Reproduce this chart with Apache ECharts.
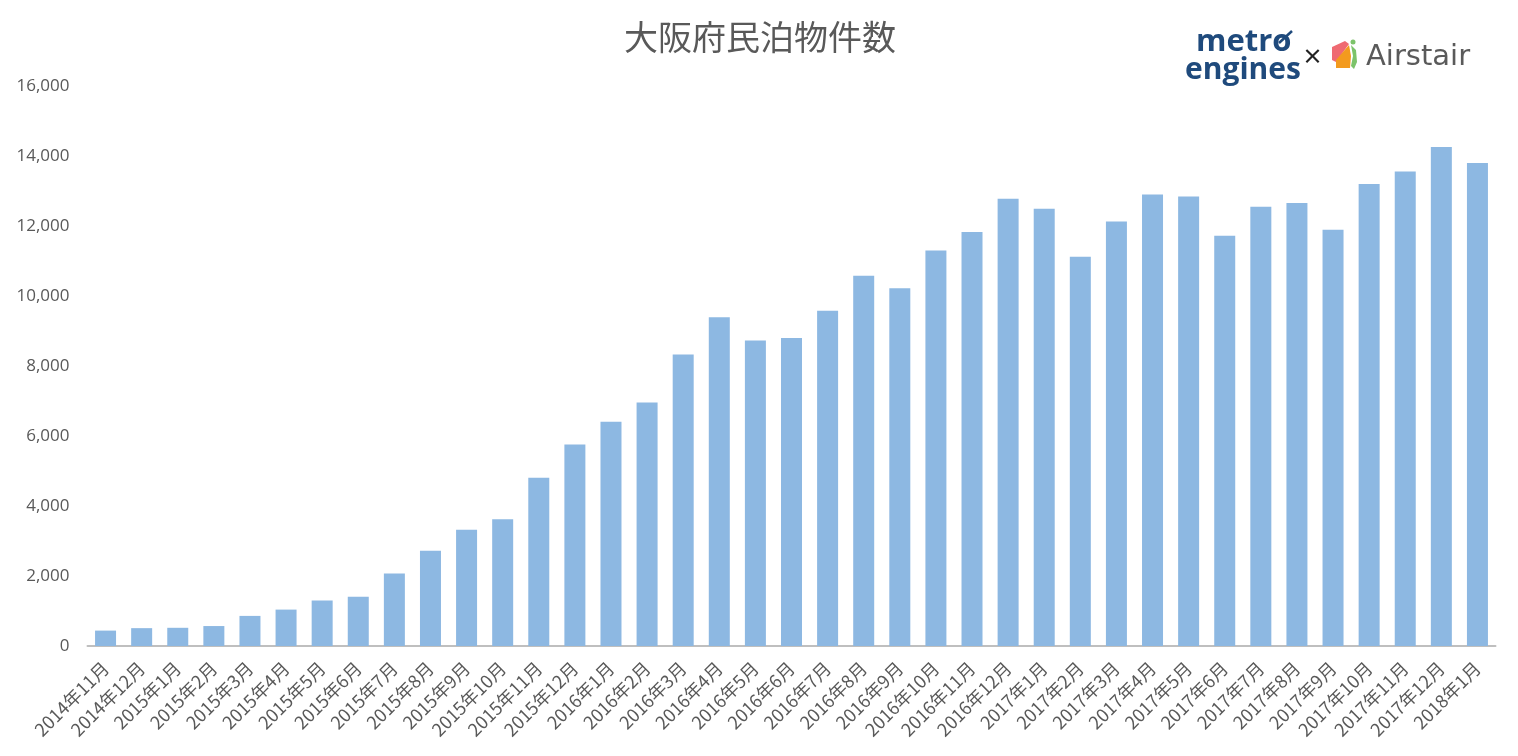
<!DOCTYPE html>
<html><head><meta charset="utf-8">
<style>html,body{margin:0;padding:0;background:#fff}#c{width:1518px;height:756px}</style>
<script src="https://cdn.jsdelivr.net/npm/echarts@6/dist/echarts.min.js"></script></head>
<body><div id="c"></div>
<script>
const categories=["2014年11月","2014年12月","2015年1月","2015年2月","2015年3月","2015年4月","2015年5月","2015年6月","2015年7月","2015年8月","2015年9月","2015年10月","2015年11月","2015年12月","2016年1月","2016年2月","2016年3月","2016年4月","2016年5月","2016年6月","2016年7月","2016年8月","2016年9月","2016年10月","2016年11月","2016年12月","2017年1月","2017年2月","2017年3月","2017年4月","2017年5月","2017年6月","2017年7月","2017年8月","2017年9月","2017年10月","2017年11月","2017年12月","2018年1月"];
const values=[440,510,520,570,860,1040,1300,1410,2070,2720,3320,3620,4810,5760,6410,6960,8330,9390,8730,8800,9580,10580,10220,11300,11830,12780,12490,11120,12130,12900,12840,11720,12550,12660,11890,13200,13560,14260,13800];
const font='"Noto Sans CJK JP","Noto Sans",sans-serif';
const chart=echarts.init(document.getElementById('c'),null,{renderer:'canvas'});
chart.setOption({
 animation:false,
 title:{text:'大阪府民泊物件数',left:755,top:15,textAlign:'center',textStyle:{fontFamily:font,fontSize:34,fontWeight:'normal',color:'#595959'}},
 grid:{left:87.5,right:22.5,top:86,bottom:110,containLabel:false},
 xAxis:{type:'category',data:categories,axisTick:{show:false},axisLine:{lineStyle:{color:'#bfbfbf',width:2}},
  axisLabel:{interval:0,rotate:45,fontFamily:font,fontSize:18,color:'#595959',margin:19}},
 yAxis:{type:'value',min:0,max:16000,interval:2000,axisLine:{show:false},axisTick:{show:false},splitLine:{show:false},
  axisLabel:{fontFamily:'"Open Sans",sans-serif',fontSize:17,color:'#595959',margin:18,formatter:v=>v.toLocaleString('en-US')}},
 series:[{type:'bar',data:values,barWidth:21,itemStyle:{color:'#8db8e2'}}],
 graphic:[
  {type:'text',left:1196,top:27,style:{text:'metro',fontFamily:'"Open Sans",sans-serif',fontWeight:'bold',fontSize:31,fill:'#1f4a7c'}},
  {type:'text',left:1185,top:55,style:{text:'engines',fontFamily:'"Open Sans",sans-serif',fontWeight:'bold',fontSize:30,fill:'#1f4a7c'}},
  {type:'line',shape:{x1:1279,y1:43,x2:1292,y2:31},style:{stroke:'#1f4a7c',lineWidth:2.5}},
  {type:'text',left:1302,top:46,style:{text:'×',fontFamily:font,fontSize:21,fontWeight:'bold',fill:'#222'}},
  {type:'polygon',shape:{points:[[1332,47],[1345,41],[1349,44],[1336,62],[1332,60]]},style:{fill:'#ef6a72'}},
  {type:'polygon',shape:{points:[[1349,45],[1351,56],[1350,68],[1336,68],[1336,60]]},style:{fill:'#f39a1e'}},
  {type:'polygon',shape:{points:[[1351,45],[1356,50],[1357,62],[1354,69],[1351,66],[1353,56]]},style:{fill:'#7cc36a'}},
  {type:'circle',shape:{cx:1353,cy:42,r:2.5},style:{fill:'#7cc36a'}},
  {type:'text',left:1366,top:43,style:{text:'Airstair',fontFamily:'"DejaVu Sans",sans-serif',fontSize:29,fill:'#5a5a5a'}}
 ]
});
</script></body></html>
